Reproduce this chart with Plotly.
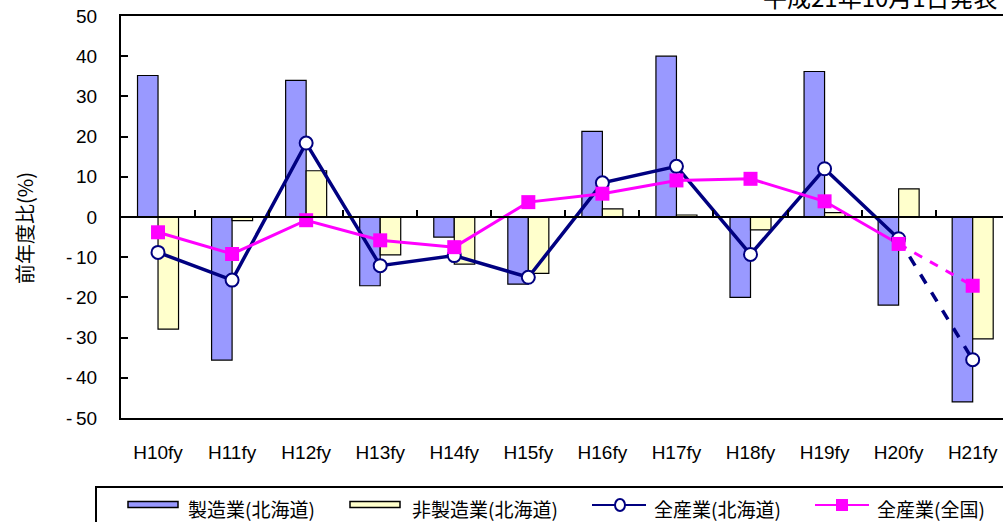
import plotly.graph_objects as go

categories = ["H10fy", "H11fy", "H12fy", "H13fy", "H14fy", "H15fy",
              "H16fy", "H17fy", "H18fy", "H19fy", "H20fy", "H21fy"]
manufacturing_hkd = [35.2, -35.6, 34.0, -17.1, -5.0, -16.7, 21.3, 40.0, -20.0, 36.2, -21.9, -46.0]
nonmanufacturing_hkd = [-27.9, -0.9, 11.5, -9.4, -11.7, -14.0, 2.0, 0.5, -3.2, 1.1, 7.0, -30.3]
all_industry_hkd = [-8.8, -15.7, 18.4, -12.1, -9.6, -15.0, 8.5, 12.6, -9.3, 12.0, -5.4, -35.5]
all_industry_nat = [-3.8, -9.2, -0.8, -5.8, -7.5, 3.7, 5.8, 9.1, 9.5, 3.9, -6.7, -17.1]
series_names = ["製造業(北海道)", "非製造業(北海道)", "全産業(北海道)", "全産業(全国)"]
y_ticks = [50, 40, 30, 20, 10, 0, -10, -20, -30, -40, -50]
y_title = "前年度比(%)"
note_text = "平成21年10月1日発表"

W, H = 1003, 522
L, T, B = 121, 16, 418
PW, PH = W - L, B - T

def px(x):
    return (x - L) / PW

def py(y):
    return (B - y) / PH

BLUE = "#9999FF"
YELLOW = "#FFFFCC"
NAVY = "#000080"
PINK = "#FF00FF"
JP = "Noto Sans CJK JP"
LAT = "Liberation Sans, Arial"

xs = list(range(len(categories)))
n_solid = len(categories) - 1  # last segment dashed

fig = go.Figure()
fig.add_trace(go.Bar(x=xs, y=manufacturing_hkd, name=series_names[0],
                     marker=dict(color=BLUE, line=dict(color="black", width=1.2))))
fig.add_trace(go.Bar(x=xs, y=nonmanufacturing_hkd, name=series_names[1],
                     marker=dict(color=YELLOW, line=dict(color="black", width=1.2))))

for vals, color, width in [(all_industry_hkd, NAVY, 3.5), (all_industry_nat, PINK, 3)]:
    fig.add_trace(go.Scatter(x=xs[:n_solid], y=vals[:n_solid], mode="lines",
                             line=dict(color=color, width=width), showlegend=False,
                             hoverinfo="skip"))
    fig.add_trace(go.Scatter(x=xs[n_solid - 1:], y=vals[n_solid - 1:], mode="lines",
                             line=dict(color=color, width=width, dash="dash"),
                             showlegend=False, hoverinfo="skip"))

fig.add_trace(go.Scatter(x=xs, y=all_industry_hkd, mode="markers", name=series_names[2],
                         marker=dict(symbol="circle", size=13, color="white",
                                     line=dict(color=NAVY, width=2))))
fig.add_trace(go.Scatter(x=xs, y=all_industry_nat, mode="markers", name=series_names[3],
                         marker=dict(symbol="square", size=14, color=PINK,
                                     line=dict(width=0))))

# zero-line category axis with boundary ticks pointing up
fig.add_trace(go.Scatter(x=[None], y=[None], xaxis="x2", showlegend=False, hoverinfo="skip"))

x_max = -0.5 + PW / 74.06

fig.update_layout(
    width=W, height=H,
    margin=dict(l=L, r=0, t=T, b=H - B, pad=0),
    paper_bgcolor="white", plot_bgcolor="white",
    showlegend=False,
    barmode="group", bargap=0.446, bargroupgap=0,
    font=dict(family=LAT, size=19, color="black"),
    xaxis=dict(range=[-0.5, x_max], tickmode="array", tickvals=xs, ticktext=categories,
               showgrid=False, zeroline=False, showline=True, linecolor="black",
               linewidth=2, mirror=True, ticks="", ticklabelstandoff=16,
               tickfont=dict(family=LAT, size=19)),
    xaxis2=dict(range=[-0.5, x_max], overlaying="x", anchor="free", position=0.5,
                side="top", showline=True, linecolor="black", linewidth=2,
                tickmode="array", tickvals=[i + 0.5 for i in xs], ticks="outside",
                ticklen=6, tickwidth=1.5, tickcolor="black", showticklabels=False,
                showgrid=False, zeroline=False),
    yaxis=dict(range=[-50, 50], tickmode="array", tickvals=y_ticks,
               ticktext=[str(v) if v >= 0 else "-\u2009" + str(-v) for v in y_ticks],
               showgrid=False, zeroline=False, showline=True, linecolor="black",
               linewidth=2, ticks="inside", ticklen=7, tickwidth=1.5, tickcolor="black",
               ticklabelstandoff=18, tickfont=dict(family=LAT, size=19)),
)

annotations = [
    dict(text=y_title, x=px(24), y=py(228), xref="paper", yref="paper",
         textangle=-90, showarrow=False, font=dict(family=JP, size=20),
         xanchor="center", yanchor="middle"),
    dict(text=note_text, x=px(1000), y=py(16), xref="paper", yref="paper",
         showarrow=False, font=dict(family=JP, size=24), xanchor="right",
         yanchor="bottom"),
]

shapes = [
    # legend frame
    dict(type="rect", xref="paper", yref="paper", x0=px(96), x1=px(1010),
         y0=py(487), y1=py(530), line=dict(color="black", width=2), fillcolor="white",
         layer="above"),
]

# legend swatches
legend_y = 505
shapes.append(dict(type="rect", xref="paper", yref="paper", x0=px(128), x1=px(178),
                   y0=py(507.5), y1=py(501.5), fillcolor=BLUE,
                   line=dict(color="black", width=1.5), layer="above"))
shapes.append(dict(type="rect", xref="paper", yref="paper", x0=px(350), x1=px(400),
                   y0=py(507.5), y1=py(501.5), fillcolor=YELLOW,
                   line=dict(color="black", width=1.5), layer="above"))
shapes.append(dict(type="line", xref="paper", yref="paper", x0=px(592), x1=px(646),
                   y0=py(legend_y), y1=py(legend_y), line=dict(color=NAVY, width=2),
                   layer="above"))
shapes.append(dict(type="line", xref="paper", yref="paper", x0=px(815), x1=px(869),
                   y0=py(legend_y), y1=py(legend_y), line=dict(color=PINK, width=2),
                   layer="above"))
shapes.append(dict(type="circle", xref="paper", yref="paper", x0=px(615), x1=px(625),
                   y0=py(legend_y + 6), y1=py(legend_y - 6), fillcolor="white",
                   line=dict(color=NAVY, width=2), layer="above"))
shapes.append(dict(type="rect", xref="paper", yref="paper", x0=px(836), x1=px(848),
                   y0=py(legend_y + 6), y1=py(legend_y - 6), fillcolor=PINK,
                   line=dict(width=0), layer="above"))

for name, x0 in zip(series_names, [186, 410, 652, 875]):
    annotations.append(dict(text=name, x=px(x0), y=py(508), xref="paper", yref="paper",
                            showarrow=False, xanchor="left", yanchor="middle",
                            font=dict(family=JP, size=19)))

fig.update_layout(annotations=annotations, shapes=shapes)
fig.write_html("out.html")
